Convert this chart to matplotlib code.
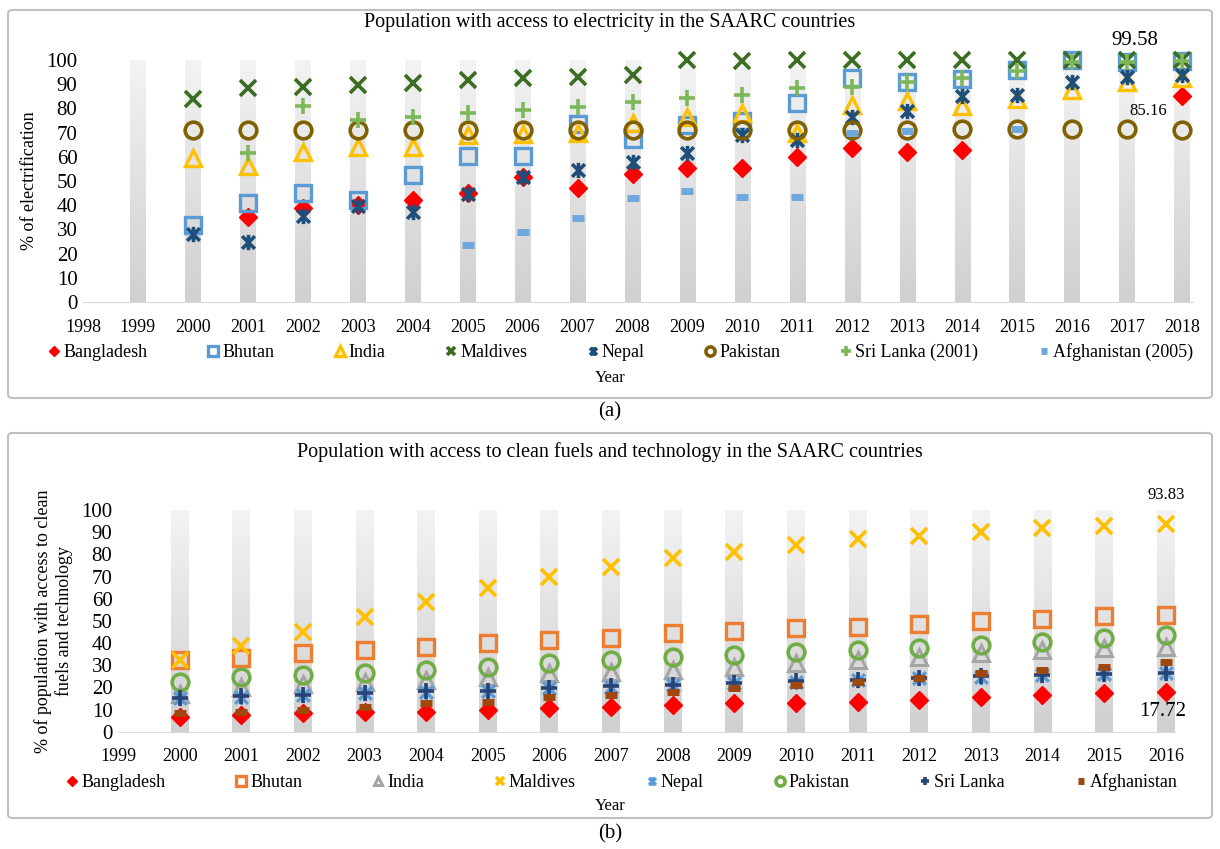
import numpy as np
import matplotlib
matplotlib.use("Agg")
import matplotlib.pyplot as plt
from matplotlib.path import Path
from matplotlib.patches import FancyBboxPatch
from matplotlib.colors import LinearSegmentedColormap

plt.rcParams['font.family'] = ['Liberation Serif', 'DejaVu Serif']

# ---------------- data: (a) access to electricity ----------------
years_a = list(range(1998, 2019))
bar_years_a = list(range(1999, 2019))
nan = np.nan
elec = {
    "Bangladesh": [nan, nan, nan, 35, 38.7, 40, 42, 45, 51.5, 47, 53, 55.5, 55.5, 60, 63.5, 62, 63, nan, nan, nan, 85.16],
    "Bhutan": [nan, nan, 32, 41, 45, 42, 52.5, 60.5, 60.5, 73.5, 67.5, 73, 75, 82.4, 92.5, 91, 92, 95.8, 100, 99.3, 99.58],
    "India": [nan, nan, 59.5, 56, 62, 64.2, 64.2, 69, 69.5, 70, 74, 76.5, 78, 69.7, 81.5, 83, 81, 84, 87.6, 91, 92.5],
    "Maldives": [nan, nan, 84, 88.3, 88.7, 89.7, 90.5, 91.7, 92.4, 93.1, 93.8, 100, 99.7, 100, 100, 100, 100, 100, 100, 100, 100],
    "Nepal": [nan, nan, 28, 25, 35.5, 39.5, 37.3, 44.5, 51.5, 54.5, 58, 61.5, 69, 67, 76.5, 79, 85, 85.5, 91, 93, 94],
    "Pakistan": [nan, nan, 71, 71, 71, 71, 71, 71, 71, 71, 71, 71, 71, 71, 71, 71.2, 71.4, 71.5, 71.6, 71.3, 71.2],
    "Sri Lanka (2001)": [nan, nan, nan, 61.4, 81, 75.2, 76.6, 78, 79.3, 80.7, 82.8, 84.2, 85.5, 88.3, 89, 91, 92.4, 95.3, 99.3, 99.3, 99.5],
    "Afghanistan (2005)": [nan, nan, nan, nan, nan, nan, nan, 23.5, 29, 34.6, 42.8, 46, 43.3, 43.5, 69.7, 70.5, nan, 71.5, nan, nan, nan],
}
style_a = {
    "Bangladesh": dict(marker='D', color='#FF0000', mfc='#FF0000', ms=9, mew=1),
    "Bhutan": dict(marker='s', color='#5B9BD5', mfc='none', ms=12, mew=2.4),
    "India": dict(marker='^', color='#FFC000', mfc='none', ms=12, mew=2.4),
    "Maldives": dict(marker='x', color='#3B6E22', ms=11, mew=2.6),
    "Nepal": dict(marker='star', color='#1F4E79', ms=11, mew=2.6),
    "Pakistan": dict(marker='o', color='#806000', mfc='none', ms=12, mew=2.6),
    "Sri Lanka (2001)": dict(marker='+', color='#7CB85A', ms=12, mew=2.6),
    "Afghanistan (2005)": dict(marker='_', color='#6FA8DC', ms=8, mew=5),
}

# ---------------- data: (b) access to clean fuels ----------------
years_b = list(range(2000, 2017))
fuels = {
    "Bangladesh": [6.8, 7.5, 8.3, 9, 9, 9.8, 10.5, 11.3, 12, 12.8, 13.1, 13.5, 14.3, 15.8, 16.5, 17.3, 17.72],
    "Bhutan": [32.3, 33.1, 35.4, 36.8, 38.3, 39.9, 41.4, 42.2, 44.5, 45.2, 46.6, 47.4, 48.7, 50.1, 50.7, 52, 52.7],
    "India": [17, 20, 21.5, 22.5, 23.5, 24.8, 26.3, 27, 28, 29.3, 30.8, 32.3, 33.8, 35.4, 36.8, 37.6, 38.3],
    "Maldives": [32.3, 38.5, 45, 51.9, 58.6, 64.8, 69.9, 74.4, 78.2, 81.2, 84.2, 86.7, 88.3, 90.2, 91.7, 92.8, 93.83],
    "Nepal": [15.1, 15.8, 16.5, 17.3, 18, 18.3, 19.5, 20.3, 21, 21.8, 22.6, 23.3, 24, 24.8, 25.6, 26, 26.3],
    "Pakistan": [22.6, 24.8, 25.6, 26.3, 28, 29.3, 30.8, 32.3, 33.8, 34.6, 35.9, 36.8, 37.9, 39.2, 40.6, 42.2, 43.6],
    "Sri Lanka": [15.3, 16, 16.7, 17.5, 18.2, 18.5, 19.7, 20.5, 21.2, 22, 22.8, 23.5, 24.2, 25, 25.8, 26.2, 26.5],
    "Afghanistan": [8.3, 9, 9.8, 11.3, 12.8, 13.5, 15.8, 16.5, 18, 19.5, 21, 22.6, 24.4, 26.3, 27.8, 29.3, 31.5],
}
style_b = {
    "Bangladesh": dict(marker='D', color='#FF0000', mfc='#FF0000', ms=9, mew=1),
    "Bhutan": dict(marker='s', color='#ED7D31', mfc='none', ms=12, mew=2.4),
    "India": dict(marker='^', color='#A5A5A5', mfc='none', ms=11, mew=2.2),
    "Maldives": dict(marker='x', color='#FFC000', ms=11, mew=2.6),
    "Nepal": dict(marker='star', color='#5B9BD5', ms=11, mew=2.4),
    "Pakistan": dict(marker='o', color='#70AD47', mfc='none', ms=12, mew=2.6),
    "Sri Lanka": dict(marker='+', color='#264478', ms=11, mew=2.6),
    "Afghanistan": dict(marker='_', color='#9E480E', ms=8, mew=5),
}

# asterisk-like marker (X with a vertical stroke)
star_path = Path([(-1, -1), (1, 1), (-1, 1), (1, -1), (0, -1.2), (0, 1.2)],
                 [Path.MOVETO, Path.LINETO, Path.MOVETO, Path.LINETO, Path.MOVETO, Path.LINETO])

W, H = 1220, 849
fig = plt.figure(figsize=(W / 100, H / 100), dpi=100)


def fx(px):
    return px / W


def fy(py):
    return 1 - py / H


grad = np.linspace(0, 1, 100).reshape(-1, 1)
gray_cmap = LinearSegmentedColormap.from_list('g', ['#D0D0D0', '#F3F3F3'])


def draw_panel(ax, xs, bar_years, bar_w, xlim, series, styles):
    for yr in bar_years:
        ax.imshow(grad, cmap=gray_cmap, extent=(yr - bar_w / 2, yr + bar_w / 2, 0, 100),
                  origin='lower', aspect='auto', zorder=1)
    handles = []
    for name, vals in series.items():
        st = dict(styles[name])
        mk = st.pop('marker')
        if mk == 'star':
            mk = star_path
        h, = ax.plot(xs, vals, linestyle='none', marker=mk, label=name,
                     clip_on=False, zorder=3, **st)
        handles.append(h)
    ax.set_xlim(*xlim)
    ax.set_ylim(0, 100)
    ax.set_yticks(range(0, 101, 10))
    for s in ['left', 'right', 'top']:
        ax.spines[s].set_visible(False)
    ax.spines['bottom'].set_color('#D9D9D9')
    ax.tick_params(length=0)
    ax.tick_params(axis='y', labelsize=15, pad=4)
    ax.tick_params(axis='x', labelsize=13, pad=12)
    return handles


# panel frames
for (y0, y1) in [(10, 398), (433, 818)]:
    fig.patches.append(FancyBboxPatch((fx(8), fy(y1)), fx(1212) - fx(8), fy(y0) - fy(y1),
                                      boxstyle='round,pad=0,rounding_size=0.004',
                                      transform=fig.transFigure, fill=False,
                                      edgecolor='#BFBFBF', lw=1.5))

# ---------------- panel (a) ----------------
ax1 = fig.add_axes([fx(83), fy(302), fx(1193) - fx(83), fy(60) - fy(302)])
ax1.set_xticks(years_a)
h1 = draw_panel(ax1, years_a, bar_years_a, 0.28, (1998, 2018.2), elec, style_a)
ax1.set_ylabel('% of electrification', fontsize=13, labelpad=6)
fig.text(fx(610), fy(22), 'Population with access to electricity in the SAARC countries',
         ha='center', va='center', fontsize=14.5)
ax1.annotate('99.58', (2018, 100), xytext=(-34, 14), textcoords='offset points',
             ha='center', va='center', fontsize=15)
ax1.annotate('85.16', (2018, 85.16), xytext=(-24, -11), textcoords='offset points',
             ha='center', va='center', fontsize=12)
fig.legend(handles=h1, loc='center', bbox_to_anchor=(fx(40), fy(365), fx(1200) - fx(40), fy(340) - fy(365)),
           mode='expand', ncol=8, frameon=False, fontsize=13, handlelength=0.8,
           handletextpad=0.1, markerscale=0.55, borderaxespad=0)
fig.text(fx(610), fy(378), 'Year', ha='center', va='center', fontsize=12)
fig.text(fx(610), fy(412), '(a)', ha='center', va='center', fontsize=15)

# ---------------- panel (b) ----------------
ax2 = fig.add_axes([fx(118), fy(731.7), fx(1175) - fx(118), fy(510) - fy(731.7)])
ax2.set_xticks(range(1999, 2017))
h2 = draw_panel(ax2, years_b, years_b, 0.29, (1999, 2016.15), fuels, style_b)
ax2.set_ylabel('% of population with access to clean\nfuels and technology', fontsize=13, labelpad=6)
fig.text(fx(610), fy(452), 'Population with access to clean fuels and technology in the SAARC countries',
         ha='center', va='center', fontsize=14.5)
ax2.annotate('93.83', (2016, 93.83), xytext=(0, 21), textcoords='offset points',
             ha='center', va='center', fontsize=12)
ax2.annotate('17.72', (2016, 17.72), xytext=(-2, -14), textcoords='offset points',
             ha='center', va='center', fontsize=15)
fig.legend(handles=h2, loc='center', bbox_to_anchor=(fx(58), fy(795), fx(1185) - fx(58), fy(770) - fy(795)),
           mode='expand', ncol=8, frameon=False, fontsize=13, handlelength=0.8,
           handletextpad=0.1, markerscale=0.55, borderaxespad=0)
fig.text(fx(610), fy(806), 'Year', ha='center', va='center', fontsize=12)
fig.text(fx(610), fy(834), '(b)', ha='center', va='center', fontsize=15)

fig.savefig('out.png', dpi=100)
